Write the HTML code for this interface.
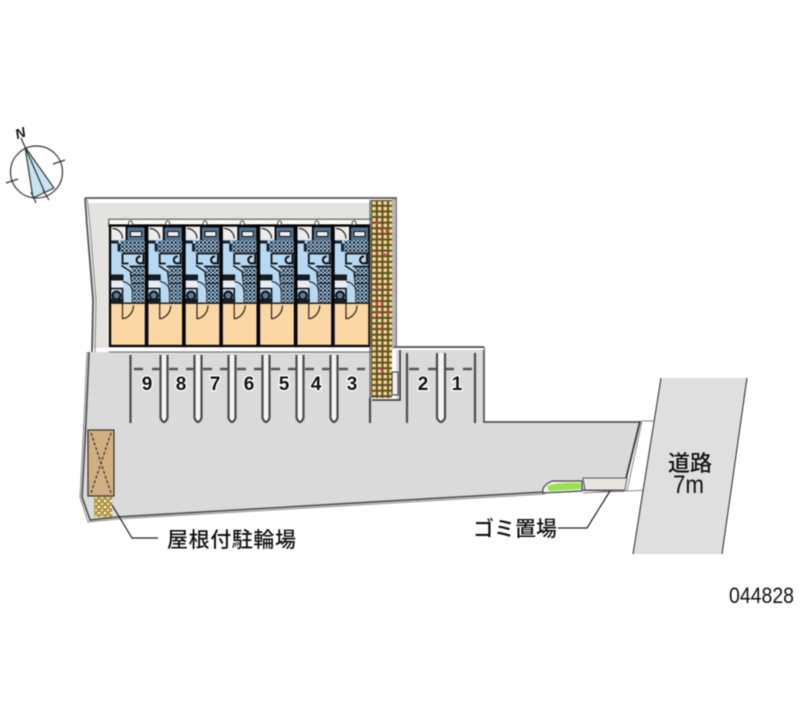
<!DOCTYPE html>
<html>
<head>
<meta charset="utf-8">
<style>
html,body{margin:0;padding:0;background:#fff;width:800px;height:727px;overflow:hidden}
svg{display:block;filter:blur(.4px)}
text{font-family:"Liberation Sans","Noto Sans CJK JP",sans-serif;fill:#111}
</style>
</head>
<body>
<svg width="800" height="727" viewBox="0 0 800 727" xmlns="http://www.w3.org/2000/svg">
<defs>
<pattern id="brick" x="371" y="200" width="5.6" height="5.600" patternUnits="userSpaceOnUse">
<rect width="5.600" height="5.600" fill="#5f4f2c"/>
<rect x="1.300" y="1.300" width="3.500" height="3.500" fill="#f4dc88"/>
</pattern>
<pattern id="hatch" width="4" height="4" patternUnits="userSpaceOnUse">
<rect width="4" height="4" fill="#a9cbe6"/>
<rect width="2.200" height="2.200" fill="#101a26"/>
<rect x="2.200" y="2.200" width="1.600" height="1.600" fill="#1b2838"/>
</pattern>
<pattern id="yel" width="6" height="6" patternUnits="userSpaceOnUse">
<rect width="6" height="6" fill="#e6c866"/>
<circle cx="3" cy="3" r="2.200" fill="#f6e6a8" stroke="#5a4a20" stroke-width=".8"/>
</pattern>
<g id="unit">
<rect x="0" y="0" width="37" height="121" fill="#fff"/>
<rect x="1" y="14" width="35" height="64" fill="#b7d9f3"/>
<rect x="1" y="78" width="35" height="42" fill="#fbd7a4"/>
<rect x="1" y="1" width="14" height="13" fill="#eeece8"/>
<path d="M3 3 A10 10 0 0 1 13 13" fill="none" stroke="#222" stroke-width="1.200"/>
<rect x="17" y="1" width="19" height="17" fill="#53728e" stroke="#0c0c0c" stroke-width="2"/>
<rect x="21" y="6" width="11" height="5" fill="#e6eef5" stroke="#111"/>
<rect x="11" y="15" width="25" height="12" fill="url(#hatch)"/>
<path d="M1 15H9V18H1ZM8 18H11V26H8Z" fill="#1a2430"/>
<path d="M13 28H36M13 28V38H19M20 41H36" stroke="#111" stroke-width="1.800" fill="none"/>
<path d="M31 31a3.500 3.500 0 1 0 2 6" fill="none" stroke="#111" stroke-width="2"/>
<path d="M34 29v10" stroke="#111" stroke-width="2"/>
<path d="M12 40L21 46L23 66L23 78" stroke="#111" stroke-width="1.400" fill="none"/>
<rect x="22" y="42" width="13" height="24" fill="url(#hatch)"/>
<path d="M22 50H35M22 58H35" stroke="#111" stroke-width="1"/>
<rect x="1" y="49" width="13" height="6" fill="#141c26"/>
<rect x="1" y="55" width="13" height="8" fill="#e8eef3"/>
<path d="M1 63H13V76" fill="none" stroke="#111" stroke-width="1.600"/>
<path d="M13 56A11 11 0 0 1 23 66" fill="none" stroke="#111" stroke-width="1"/>
<circle cx="7" cy="70" r="4" fill="#5c7a98" stroke="#0c0c0c" stroke-width="2"/>
<rect x="1" y="73" width="13" height="5" fill="#141c26"/>
<rect x="23" y="66" width="12" height="11" fill="url(#hatch)"/>
<path d="M13 78V93H15A14 14 0 0 0 24 80" fill="none" stroke="#222" stroke-width="1.200"/>
<rect x=".5" y="0" width="36" height="120.500" fill="none" stroke="#060606" stroke-width="2.400"/>
<rect x="1" y="77" width="35" height="1.500" fill="#222"/>
<circle cx="21" cy="-2.500" r="2" fill="#fff" stroke="#444" stroke-width="1"/>
<rect x="25" y="122" width="9" height="3" fill="#666"/>
</g>
<g id="stall">
<path d="M-3.500 355V418Q0 426 3.500 418V355" fill="#f4f4f4" stroke="#4c4c4c" stroke-width="2.200"/>
<path d="M-12 369H-4M5 369H14" stroke="#555" stroke-width="2.400" fill="none"/>
</g>
</defs>

<!-- compass -->
<g fill="none" stroke="#333" stroke-width="1.200">
<path d="M25 147L33 198L54 188Z" fill="#c6e4f3"/>
<circle cx="36.500" cy="172" r="26"/>
<path d="M25 147L45 193M21 138L25 147M53 164L65 160M6 183L18 179M31 192L36 203M43 190L49 200"/>
</g>
<text x="20" y="138" font-size="14" transform="rotate(-20 20 132)" text-anchor="middle" font-family="Liberation Serif" font-style="italic" font-weight="bold">N</text>

<!-- light surround -->
<path d="M85 198H396V348H370V352H92L93 300L85 220Z" fill="#fff"/>
<path d="M88 203H370V348H92L93 300Z" fill="#e5e3df"/>
<path d="M85 198H396V348M85 198L87 225L93 300L92 352" fill="none" stroke="#555" stroke-width="1.800"/>
<path d="M87 198L90 225L96 300L95 352" fill="none" stroke="#888" stroke-width="1"/>
<rect x="392" y="199" width="4" height="150" fill="#b5b5b5"/>
<rect x="108" y="220" width="263" height="132" fill="#fff"/>
<rect x="108" y="218.500" width="263" height="1.500" fill="#777"/>
<rect x="108" y="219" width="1.500" height="8" fill="#777"/>

<!-- parking lot -->
<path d="M89 352H370V400H396V348H484V422H640L623 491L545 492L118 517L90 520L82 497L86 420Z" fill="#dadada"/>
<path d="M89 352L86 420L82 497L90 520L118 517L545 492M583 490L623 491L640 422H484V348H396" fill="none" stroke="#555" stroke-width="1.800"/>
<path d="M87 352L84 420L80 497L88 522L118 519L545 494M583 493L650 490M627 491L642 421H656" fill="none" stroke="#888" stroke-width="1"/>
<path d="M640 421L623 491" fill="none" stroke="#444" stroke-width="1.800"/>
<path d="M372 400H400V348" fill="none" stroke="#444" stroke-width="1.800"/>
<rect x="394" y="348" width="90" height="2" fill="#fff"/>
<path d="M394 347H484" stroke="#555" stroke-width="1.800"/>

<!-- units -->
<use href="#unit" x="109.500" y="225.500"/>
<use href="#unit" x="146.700" y="225.500"/>
<use href="#unit" x="184" y="225.500"/>
<use href="#unit" x="221.200" y="225.500"/>
<use href="#unit" x="258.500" y="225.500"/>
<use href="#unit" x="295.800" y="225.500"/>
<use href="#unit" x="333" y="225.500"/>
<rect x="109" y="347.500" width="262" height="4.500" fill="#fff"/>
<path d="M109 352H371" stroke="#666" stroke-width="1"/>

<!-- brick -->
<rect x="371" y="200" width="21" height="198" fill="url(#brick)"/>
<path d="M370 200V400" stroke="#444" stroke-width="1"/>
<g fill="#d0356f"><circle cx="377" cy="223" r="1.500"/><circle cx="382" cy="230" r="1.500"/><circle cx="387" cy="231" r="1.500"/><circle cx="377" cy="254" r="1.500"/><circle cx="385" cy="255" r="1.500"/><circle cx="377" cy="288" r="1.500"/><circle cx="388" cy="288" r="1.500"/><circle cx="377" cy="304" r="1.500"/><circle cx="382" cy="304" r="1.500"/><circle cx="377" cy="313" r="1.500"/><circle cx="388" cy="313" r="1.500"/><circle cx="381" cy="329" r="1.500"/><circle cx="382" cy="370" r="1.500"/></g>
<rect x="392" y="372" width="6" height="23" fill="#eee" stroke="#333" stroke-width="1"/>

<!-- stalls -->
<g stroke="#4c4c4c" stroke-width="2.200" fill="none">
<path d="M130.500 355V423M370 398V423M407 353V423M475 353V423"/>
<path d="M134 369H143M357 369H365M409 369H419M428 369H437M446 369H454M463 369H472" stroke="#555" stroke-width="2.400"/>
</g>
<use href="#stall" x="164" y="0"/>
<use href="#stall" x="198" y="0"/>
<use href="#stall" x="232" y="0"/>
<use href="#stall" x="266" y="0"/>
<use href="#stall" x="300" y="0"/>
<use href="#stall" x="334" y="0"/>
<path d="M437 353V418Q441 426 445 418V353" fill="#f4f4f4" stroke="#4c4c4c" stroke-width="2.200"/>
<g font-size="19" text-anchor="middle" font-weight="bold" stroke="#fff" stroke-width="2.500" paint-order="stroke">
<text x="147" y="390">9</text><text x="181" y="390">8</text><text x="215" y="390">7</text><text x="249" y="390">6</text><text x="284" y="390">5</text><text x="316" y="390">4</text><text x="352" y="390">3</text><text x="423" y="390">2</text><text x="457" y="390">1</text>
</g>

<!-- bike shed -->
<rect x="88" y="430" width="26" height="66" fill="#d2ae80" stroke="#333" stroke-width="1.200"/>
<path d="M91 433L111 493M111 433L91 493" stroke="#333" stroke-width="1.200" stroke-dasharray="3 2" fill="none"/>
<rect x="94" y="497" width="18" height="20" fill="url(#yel)"/>

<!-- garbage + green -->
<path d="M583 478H627L625 490H585Z" fill="#e9e6e0" stroke="#555" stroke-width="1"/>
<path d="M552 481H582V491L543 493Q541 486 552 481Z" fill="#eee" stroke="#444" stroke-width="1.200"/>
<path d="M547 486Q560 482 581 483V489L549 491Z" fill="#98e34a"/>

<!-- road -->
<path d="M661 378H747L722 554H633Z" fill="#dfdfdf"/>
<path d="M661 378L633 554M747 378L722 554" stroke="#444" stroke-width="1.200" fill="none"/>

<!-- leaders -->
<path d="M112 505L132 538H158M558 528H587L610 491" fill="none" stroke="#222" stroke-width="1.200"/>

<!-- labels -->
<text x="167" y="547" font-size="21" letter-spacing=".6" font-weight="500">屋根付駐輪場</text>
<text x="473" y="536" font-size="21" font-weight="500">ゴミ置場</text>
<text x="690" y="471" font-size="22" text-anchor="middle" font-weight="500">道路</text>
<text x="673" y="493" font-size="25" textLength="31" lengthAdjust="spacingAndGlyphs">7m</text>
<text x="729" y="603" font-size="22" textLength="65" lengthAdjust="spacingAndGlyphs">044828</text>
</svg>
</body>
</html>
